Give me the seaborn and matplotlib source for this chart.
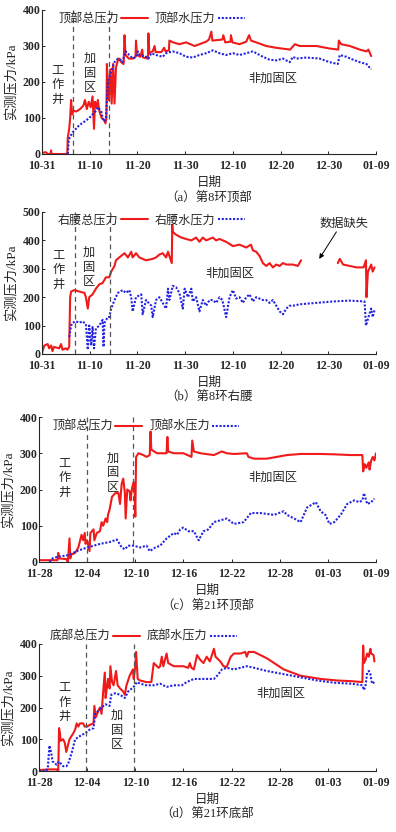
import matplotlib
matplotlib.use("Agg")
import matplotlib.pyplot as plt
import seaborn as sns
import pandas as pd
import numpy as np

sns.set_style("ticks")
plt.rcParams['font.family'] = ['Liberation Serif', 'Noto Sans CJK SC', 'DejaVu Sans']
plt.rcParams['xtick.direction'] = 'in'
plt.rcParams['ytick.direction'] = 'in'
plt.rcParams['axes.unicode_minus'] = False

RED = '#f01a1a'
BLUE = '#2424e0'
FS = 8.5
CJK = ['Noto Sans CJK SC', 'DejaVu Sans']
MIX = ['Liberation Serif', 'Noto Sans CJK SC', 'DejaVu Sans']

# ---------------- (a) 第8环顶部 (day 0 = 10-31) ----------------
a_tot_day = [0, 0.8, 1.2, 1.8, 1.9, 2.0, 5.3, 5.4, 5.7, 5.9, 6.1, 6.3, 6.6, 7.2, 8.0, 8.7, 9.0,
             9.4, 9.8, 10.2, 10.6, 10.9, 11.1, 11.4, 11.7, 12.0, 12.5, 13.0, 13.3, 13.5, 13.6,
             13.8, 14.0, 14.3, 14.6, 14.9, 15.2, 15.5, 15.9, 16.2, 16.6, 17.1, 17.3, 17.5, 18.2,
             19.0, 19.6, 19.7, 19.9, 20.6, 21.0, 21.2, 22.2, 22.3, 22.5, 23.2, 23.6, 23.8, 25.0,
             25.6, 25.9, 26.6, 26.7, 27.5, 28.8, 30.2, 32.0, 33.0, 34.4, 35.0, 35.5, 35.7, 37.8,
             38.0, 38.4, 39.5, 39.6, 39.9, 41.4, 42.8, 43.4, 43.8, 44.9, 47.0, 49.1, 52.0, 53.0,
             54.0, 57.5, 60.3, 62.1, 62.2, 62.7, 64.5, 66.6, 68.0, 68.4, 68.8, 69.0]
a_tot_val = [3, 5, 0, 0, 10, 0, 0, 45, 70, 100, 150, 110, 120, 118, 125, 135, 150,
             125, 145, 130, 160, 70, 145, 130, 150, 120, 100, 95, 85, 100, 250,
             190, 150, 235, 140, 250, 140, 240, 260, 265, 255, 250, 330, 275, 265,
             265, 270, 315, 275, 270, 290, 268, 265, 335, 280, 285, 300, 283, 283,
             295, 285, 288, 315, 310, 305, 310, 300, 305, 312, 318, 340, 315, 318,
             330, 310, 312, 330, 310, 305, 312, 330, 315, 310, 300, 295, 290, 305,
             300, 300, 293, 290, 315, 305, 300, 290, 285, 290, 278, 272]
a_wat_day = [5.4, 5.6, 6.4, 7.1, 7.8, 8.9, 9.4, 9.9, 10.6, 11.3, 11.7, 12.0, 12.4, 12.7, 13.1,
             13.4, 13.8, 14.5, 15.2, 15.9, 16.6, 16.9, 17.5, 18.3, 19.0, 19.7, 20.1, 20.4, 21.8,
             22.3, 22.9, 23.9, 25.3, 26.0, 27.4, 28.8, 30.2, 31.6, 33.0, 34.4, 35.8, 37.2, 38.6,
             40.0, 41.4, 42.8, 44.2, 46.3, 47.7, 49.1, 50.5, 51.9, 52.6, 53.3, 55.4, 58.2, 60.3,
             62.0, 62.4, 63.8, 65.2, 66.6, 68.0, 69.0]
a_wat_val = [0, 40, 60, 70, 80, 90, 95, 100, 110, 120, 130, 125, 120, 100, 90,
             100, 200, 230, 255, 265, 260, 255, 285, 275, 265, 270, 285, 275, 270,
             265, 280, 275, 270, 280, 285, 280, 270, 268, 275, 280, 288, 280, 275,
             280, 275, 280, 285, 270, 262, 260, 265, 255, 270, 265, 268, 265, 255,
             250, 275, 270, 262, 255, 250, 235]

# ---------------- (b) 第8环右腰 (day 0 = 10-31) ----------------
b_tot_day = [0.0, 0.1, 0.5, 1.2, 1.5, 1.9, 2.2, 2.5, 3.6, 4.0, 4.3, 5.0, 5.3, 5.7, 5.9, 6.1,
             6.8, 7.8, 8.9, 9.2, 9.6, 9.9, 10.6, 11.3, 12.0, 12.7, 13.4, 14.1, 14.5, 15.2,
             15.5, 16.2, 17.3, 18.0, 18.7, 19.0, 19.7, 20.4, 21.1, 21.8, 23.2, 23.9, 24.6, 25.3,
             26.0, 26.4, 26.7, 27.2, 27.3, 27.4, 28.1, 29.2, 30.2, 31.3, 32.3, 33.0, 33.7, 34.4,
             35.1, 35.8, 36.5, 37.2, 38.6, 40.0, 41.4, 42.8, 43.8, 44.2, 44.9, 45.6, 46.3, 47.0,
             47.7, 48.4, 49.1, 49.8, 50.5, 51.2, 52.6, 53.6, 54.3, np.nan,
             62.0, 62.4, 63.1, 64.5, 65.9, 67.4, 67.9, 68.0, 68.3, 68.6, 69.0, 69.3, 69.7]
b_tot_val = [0, 10, 30, 35, 20, 30, 10, 25, 20, 35, 15, 20, 15, 25, 200, 220,
             225, 220, 215, 200, 160, 200, 210, 230, 245, 250, 270, 270, 290, 310,
             330, 340, 355, 340, 360, 340, 355, 340, 335, 330, 335, 340, 350, 355,
             340, 360, 345, 320, 455, 430, 420, 410, 405, 400, 410, 395, 410, 400,
             405, 410, 400, 405, 395, 380, 385, 375, 385, 365, 360, 345, 320, 310,
             320, 305, 315, 310, 320, 315, 315, 310, 330, np.nan,
             320, 335, 315, 310, 305, 305, 330, 200, 290, 300, 315, 290, 305]
b_wat_day = [5.7, 6.1, 6.4, 7.1, 7.8, 8.5, 9.2, 9.6, 9.9, 10.3, 10.6, 10.9, 11.3, 12.0, 12.7,
             12.9, 13.1, 13.8, 14.1, 14.5, 15.2, 15.9, 16.9, 17.6, 18.3, 18.7, 19.0, 19.7, 20.8,
             21.1, 21.8, 22.9, 23.2, 23.9, 24.6, 25.3, 26.0, 26.4, 26.7, 27.4, 28.1, 28.8, 29.5,
             29.9, 30.6, 31.3, 31.6, 32.3, 33.0, 33.7, 34.4, 35.1, 35.8, 36.5, 37.2, 37.8, 38.6,
             39.3, 40.0, 40.7, 41.4, 42.1, 42.8, 43.5, 44.2, 44.9, 45.6, 46.3, 47.0, 47.7, 48.4,
             49.1, 49.8, 50.5, 51.2, 51.9, 52.6, 54.0, 57.5, 61.0, 64.5, 67.6, 67.9, 68.6, 69.0,
             69.3, 69.7]
b_wat_val = [60, 100, 110, 115, 110, 115, 105, 15, 100, 30, 95, 20, 90, 100, 120,
             25, 110, 130, 130, 160, 190, 215, 225, 215, 225, 200, 150, 200, 210,
             140, 190, 170, 130, 190, 200, 180, 160, 230, 190, 240, 235, 215, 160,
             230, 200, 230, 185, 200, 150, 190, 170, 190, 190, 180, 200, 190, 130,
             200, 225, 195, 200, 180, 200, 210, 185, 200, 195, 190, 190, 180, 190,
             170, 150, 140, 160, 170, 170, 175, 180, 185, 188, 185, 100, 140, 160,
             130, 155]

# ---------------- (c) 第21环顶部 (day 0 = 11-28) ----------------
c_tot_day = [0, 2.3, 2.4, 2.5, 3.4, 3.6, 3.8, 3.9, 4.0, 4.5, 4.9, 5.3, 5.5, 5.7, 5.8, 6.0,
             6.3, 6.4, 6.8, 6.9, 7.2, 7.6, 7.8, 8.0, 8.3, 8.5, 8.6, 8.8, 9.1, 9.5, 9.9,
             10.1, 10.3, 10.5, 10.7, 10.8, 11.0, 11.3, 11.4, 11.6, 11.8, 11.9, 12.0, 12.1, 12.4,
             13.0, 13.4, 13.8, 13.9, 14.0, 14.7, 15.9, 16.0, 16.1, 16.8, 18.0, 19.0, 19.1, 19.3,
             20.1, 21.8, 22.8, 23.4, 24.3, 25.9, 26.1, 26.8, 28.4, 30.9, 32.6, 35.1, 36.8, 38.9,
             40.3, 40.4, 40.6, 40.8, 41.1, 41.2, 41.4, 41.6, 41.8, 42.0]
c_tot_val = [5, 5, 25, 10, 8, 0, 65, 10, 20, 25, 40, 75, 60, 80, 50, 60,
             30, 80, 90, 60, 80, 85, 110, 100, 120, 110, 130, 145, 180, 190, 190,
             160, 215, 230, 190, 120, 200, 195, 170, 205, 220, 215, 125, 290, 300,
             295, 290, 295, 360, 310, 300, 300, 345, 305, 300, 300, 290, 335, 305,
             300, 295, 305, 300, 298, 300, 290, 285, 285, 295, 298, 298, 297, 295,
             295, 250, 270, 260, 275, 255, 280, 290, 280, 300]
c_wat_day = [1.3, 1.7, 2.4, 3.4, 3.8, 4.7, 6.0, 7.6, 8.8, 9.7, 9.9, 10.3, 10.7, 11.1, 11.8,
             12.6, 13.4, 13.8, 14.5, 15.1, 15.9, 16.8, 17.2, 17.6, 18.0, 18.6, 19.3, 19.9, 20.5,
             21.1, 21.8, 22.6, 23.4, 24.3, 25.5, 26.4, 27.6, 29.3, 30.5, 30.9, 31.8, 32.6, 33.4,
             34.5, 35.1, 35.7, 36.2, 36.8, 37.6, 38.4, 39.3, 39.9, 40.3, 40.5, 40.7, 40.9, 41.4,
             41.8]
c_wat_val = [0, 10, 15, 18, 20, 30, 40, 50, 55, 62, 55, 40, 35, 45, 45,
             40, 45, 30, 40, 45, 65, 80, 75, 90, 95, 85, 85, 60, 85,
             90, 110, 115, 120, 105, 110, 135, 135, 130, 140, 130, 120, 110, 150,
             165, 140, 130, 105, 110, 130, 160, 170, 165, 170, 190, 175, 160, 165,
             175]

# ---------------- (d) 第21环底部 (day 0 = 11-28) ----------------
d_tot_day = [0, 1.3, 2.2, 2.4, 2.5, 2.6, 2.7, 3.0, 3.2, 3.4, 3.8, 4.3, 4.5, 4.7, 4.9, 5.1,
             5.5, 5.7, 6.0, 6.3, 6.8, 6.9, 7.1, 7.4, 7.6, 7.8, 8.0, 8.2, 8.3, 8.4,
             8.6, 8.8, 8.9, 9.1, 9.3, 9.6, 9.8, 10.1, 10.5, 10.7, 10.9, 11.3, 11.7, 11.8,
             12.0, 12.1, 12.3, 12.6, 13.4, 14.0, 14.3, 14.9, 15.1, 15.3, 15.5, 15.9, 16.1, 16.8,
             18.0, 18.6, 18.8, 19.0, 19.3, 19.7, 20.1, 20.5, 20.9, 21.3, 21.8, 22.0, 22.6, 23.0,
             23.4, 23.9, 24.3, 25.1, 25.7, 25.9, 26.1, 26.8, 28.4, 30.5, 32.6, 35.1, 37.2, 38.9,
             40.3, 40.4, 40.5, 40.7, 40.9, 41.1, 41.3, 41.4, 41.7, 41.8]
d_tot_val = [3, 5, 5, 0, 135, 120, 95, 100, 90, 60, 100, 120, 130, 150, 140, 150,
             150, 140, 140, 145, 150, 205, 170, 190, 200, 180, 250, 310, 230, 250,
             290, 260, 330, 280, 270, 315, 270, 260, 250, 240, 270, 300, 320, 290,
             330, 375, 290, 285, 280, 280, 340, 325, 330, 360, 330, 370, 340, 330,
             330, 325, 340, 325, 320, 365, 350, 340, 360, 345, 385, 360, 345, 330,
             328, 360, 370, 370, 375, 360, 375, 375, 355, 320, 300, 290, 285, 283,
             280, 395, 340, 350, 370, 360, 385, 370, 365, 345]
d_wat_day = [0, 0.9, 1.1, 1.3, 1.5, 1.7, 2.2, 2.5, 3.0, 3.4, 3.6, 4.1, 4.5, 5.1, 5.8,
             6.3, 6.8, 7.0, 7.4, 7.8, 8.3, 8.8, 9.0, 9.5, 10.1, 10.7, 11.1, 11.8, 12.2,
             12.6, 13.4, 14.3, 15.1, 15.9, 16.8, 17.8, 18.4, 19.3, 20.1, 21.8, 22.2, 22.8, 23.4,
             24.3, 25.9, 26.8, 28.4, 30.5, 32.6, 34.7, 36.8, 38.9, 40.3, 40.5, 40.7, 40.9, 41.1,
             41.3, 41.5, 41.8]
d_wat_val = [0, 0, 10, 80, 60, 30, 20, 30, 15, 15, 20, 60, 100, 110, 120,
             130, 135, 180, 190, 200, 210, 205, 240, 245, 240, 230, 250, 265, 280,
             275, 270, 270, 275, 265, 270, 270, 280, 290, 290, 290, 300, 320, 325,
             320, 330, 325, 315, 305, 295, 285, 278, 275, 270, 255, 270, 310, 315,
             305, 275, 280]

ticks_ab = [0, 10, 20, 30, 40, 50, 60, 70]
labels_ab = ['10-31', '11-10', '11-20', '11-30', '12-10', '12-20', '12-30', '01-09']
ticks_cd = [0, 6, 12, 18, 24, 30, 36, 42]
labels_cd = ['11-28', '12-04', '12-10', '12-16', '12-22', '12-28', '01-03', '01-09']

W, H = 396, 832
fig = plt.figure(figsize=(W / 100, H / 100), dpi=100)


def px_axes(top, bottom, left=42, right=376):
    return fig.add_axes([left / W, 1 - bottom / H, (right - left) / W, (bottom - top) / H])


def draw_series(ax, tday, tval, wday, wval, names):
    tday = np.asarray(tday, float)
    tval = np.asarray(tval, float)
    breaks = np.where(np.isnan(tday))[0]
    segs = np.split(np.arange(len(tday)), breaks)
    for i, idx in enumerate(segs):
        idx = idx[~np.isnan(tday[idx])]
        df = pd.DataFrame({'day': tday[idx], 'kPa': tval[idx]})
        sns.lineplot(data=df, x='day', y='kPa', ax=ax, color=RED, lw=1.5,
                     sort=False, estimator=None, label=names[0] if i == 0 else None)
    dfw = pd.DataFrame({'day': wday, 'kPa': wval})
    sns.lineplot(data=dfw, x='day', y='kPa', ax=ax, color=BLUE, lw=1.5,
                 sort=False, estimator=None, label=names[1], linestyle=(0, (1, 0.8)))


def style_axes(ax, xmax, ymax, ticks, labels, vlines, leg_xy, caption):
    h = ax.get_position().height * H
    ax.set_xlim(0, xmax)
    ax.set_ylim(0, ymax)
    ax.set_xticks(ticks)
    ax.set_xticklabels(labels)
    ax.set_yticks(np.arange(0, ymax + 1, 100))
    ax.tick_params(labelsize=FS, length=2.5, width=0.7, pad=4.5)
    ax.tick_params(axis='y', pad=1)
    plt.setp(ax.get_xticklabels() + ax.get_yticklabels(),
             family=['Liberation Serif'], weight='bold')
    sns.despine(ax=ax)
    for s in ['left', 'bottom']:
        ax.spines[s].set_linewidth(0.8)
    for v in vlines:
        ax.axvline(v, color='#555555', ls=(0, (4, 3)), lw=0.9)
    ax.set_xlabel('日期', fontsize=FS + 0.5, family=CJK)
    ax.xaxis.set_label_coords(0.5, -28 / h)
    ax.xaxis.label.set_va('center')
    ax.set_ylabel('实测压力/kPa', fontsize=FS + 1, family=MIX)
    ax.yaxis.set_label_coords(-30 / 334, 0.5)
    ax.yaxis.label.set_va('center')
    ax.legend(loc='upper left', bbox_to_anchor=leg_xy, ncol=2, frameon=False,
              markerfirst=False, handlelength=2.2,
              columnspacing=0.6, handletextpad=0.2, borderaxespad=0, borderpad=0,
              prop={'family': CJK, 'size': FS + 0.2})
    ax.text(0.5, -44 / h, caption, transform=ax.transAxes, ha='center', va='center',
            fontsize=FS + 0.5, family=MIX)


def vtext(ax, x, y, s):
    ax.text(x, y, '\n'.join(s), ha='center', va='center', fontsize=FS + 0.3,
            family=CJK, linespacing=1.15)


def htext(ax, x, y, s):
    ax.text(x, y, s, ha='center', va='center', fontsize=FS + 0.3, family=CJK)


# (a)
ax = px_axes(10, 154)
draw_series(ax, a_tot_day, a_tot_val, a_wat_day, a_wat_val, ['顶部总压力', '顶部水压力'])
style_axes(ax, 70, 400, ticks_ab, labels_ab, [6.4, 14.1], (0.048, 0.985), '（a）第8环顶部')
vtext(ax, 3.2, 192, '工作井')
vtext(ax, 10.1, 225, '加固区')
htext(ax, 48.3, 211, '非加固区')

# (b)
ax = px_axes(212, 354)
draw_series(ax, b_tot_day, b_tot_val, b_wat_day, b_wat_val, ['右腰总压力', '右腰水压力'])
style_axes(ax, 70, 500, ticks_ab, labels_ab, [7.0, 14.3], (0.048, 0.99), '（b）第8环右腰')
vtext(ax, 3.4, 296, '工作井')
vtext(ax, 9.9, 306, '加固区')
htext(ax, 39.3, 285, '非加固区')
htext(ax, 63.2, 458, '数据缺失')
ax.annotate('', xy=(58.1, 335), xytext=(61.7, 430),
            arrowprops=dict(arrowstyle='-|>', color='black', lw=0.7, mutation_scale=7,
                            shrinkA=0, shrinkB=0))

# (c)
ax = px_axes(417, 562, left=39)
draw_series(ax, c_tot_day, c_tot_val, c_wat_day, c_wat_val, ['顶部总压力', '顶部水压力'])
style_axes(ax, 42, 400, ticks_cd, labels_cd, [6.0, 11.7], (0.039, 0.98), '（c）第21环顶部')
vtext(ax, 3.2, 232, '工作井')
vtext(ax, 9.2, 246, '加固区')
htext(ax, 29.2, 234, '非加固区')

# (d)
ax = px_axes(644, 771, left=39)
draw_series(ax, d_tot_day, d_tot_val, d_wat_day, d_wat_val, ['底部总压力', '底部水压力'])
style_axes(ax, 42, 400, ticks_cd, labels_cd, [5.8, 11.8], (0.033, 1.11), '（d）第21环底部')
vtext(ax, 3.2, 217, '工作井')
vtext(ax, 9.7, 129, '加固区')
htext(ax, 30.1, 246, '非加固区')

fig.savefig('out.png', dpi=100)
